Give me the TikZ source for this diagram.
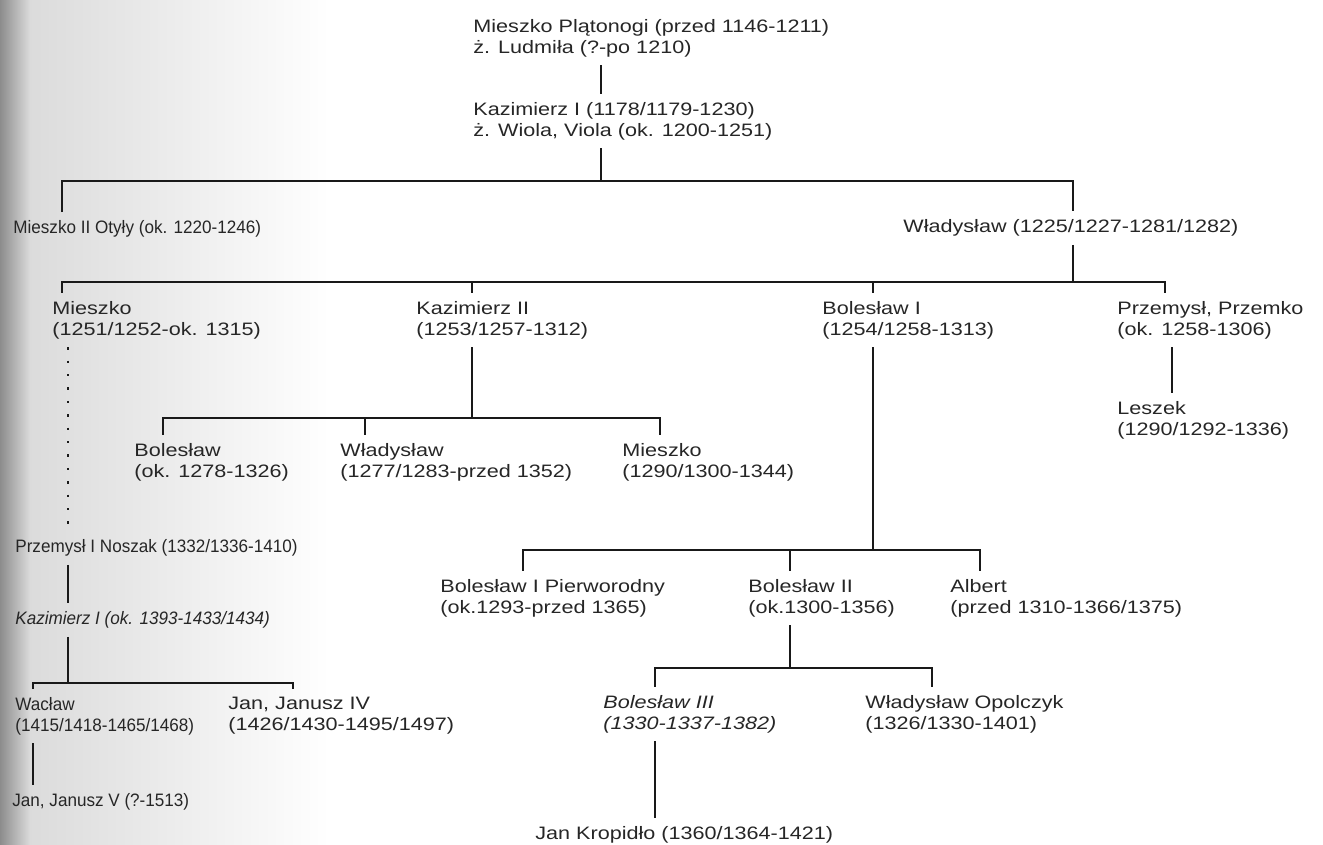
\documentclass[tikz,border=0pt]{standalone}
\usepackage{fontspec}
\setmainfont{Liberation Sans}[FakeStretch=1.2]
\newfontfamily\narrowfont{Liberation Sans}[FakeStretch=0.95]
\usetikzlibrary{calc}

\begin{document}
\begin{tikzpicture}[x=0.5pt, y=-0.5pt, font=\fontsize{9}{10.5}\selectfont, person/.style={anchor=west, align=left, inner xsep=0pt, inner ysep=4pt, text=black!85}, side/.style={person, font=\narrowfont\fontsize{9}{10.5}\selectfont}, link/.style={line width=1.3pt, black!90}]
\useasboundingbox (0,0) rectangle (1323,845);
\shade[left color=black!45, right color=black!14] (0,0) rectangle (30,845);
\shade[left color=black!14, right color=white] (30,0) rectangle (330,845);
% first generations
\node[person] (top) at (473,38) {Mieszko Plątonogi (przed 1146-1211)\\ż. Ludmiła (?-po 1210)};
\node[person] (kaz1) at (473,121) {Kazimierz I (1178/1179-1230)\\ż. Wiola, Viola (ok. 1200-1251)};
\node[side] (otyly) at (13,229) {Mieszko II Otyły (ok. 1220-1246)};
\node[person] (wlad) at (903,228) {Władysław (1225/1227-1281/1282)};
% sons of Władysław
\node[person] (mieszko) at (52,320) {Mieszko\\(1251/1252-ok. 1315)};
\node[person] (kazII) at (416,320) {Kazimierz II\\(1253/1257-1312)};
\node[person] (bolI) at (822,320) {Bolesław I\\(1254/1258-1313)};
\node[person] (przem) at (1117,320) {Przemysł, Przemko\\(ok. 1258-1306)};
\node[person] (leszek) at (1117,420) {Leszek\\(1290/1292-1336)};
% Kazimierz II line
\node[person] (bol) at (134,462) {Bolesław\\(ok. 1278-1326)};
\node[person] (wladB) at (340,462) {Władysław\\(1277/1283-przed 1352)};
\node[person] (mieszkoB) at (622,462) {Mieszko\\(1290/1300-1344)};
% Bolesław I line
\node[person] (pierw) at (440,598) {Bolesław I Pierworodny\\(ok.1293-przed 1365)};
\node[person] (bolII) at (748,598) {Bolesław II\\(ok.1300-1356)};
\node[person] (albert) at (950,598) {Albert\\(przed 1310-1366/1375)};
\node[person, font=\fontsize{9}{10.5}\selectfont\itshape] (bolIII) at (603,714) {Bolesław III\\(1330-1337-1382)};
\node[person] (opol) at (865,714) {Władysław Opolczyk\\(1326/1330-1401)};
\node[person] (jan) at (535,835) {Jan Kropidło (1360/1364-1421)};
% Mieszko line (left)
\node[side] (noszak) at (15,548) {Przemysł I Noszak (1332/1336-1410)};
\node[side, font=\narrowfont\fontsize{9}{10.5}\selectfont\itshape] (kazIb) at (15,620) {Kazimierz I (ok. 1393-1433/1434)};
\node[side] (waclaw) at (15,716) {Wacław\\(1415/1418-1465/1468)};
\node[person] (janIV) at (228,716) {Jan, Janusz IV\\(1426/1430-1495/1497)};
\node[side] (janV) at (12,802) {Jan, Janusz V (?-1513)};
% bars
\coordinate (b0) at (601,181);
\coordinate (b1) at (1073,282);
\coordinate (b2) at (472,418);
\coordinate (b3) at (873,550);
\coordinate (b4) at (790,668);
\coordinate (b5) at (68,683);
\draw[link] (top.south -| 601,0) -- (kaz1.north -| 601,0);
\draw[link] (kaz1.south -| b0) -- (b0);
\draw[link] (otyly.north -| 62,0) |- (b0) -| (wlad.north -| 1073,0);
\draw[link] (wlad.south -| b1) -- (b1);
\draw[link] (mieszko.north -| 62,0) |- (b1) -| (przem.north -| 1165,0);
\draw[link] (472,0 |- b1) -- (kazII.north -| 472,0);
\draw[link] (873,0 |- b1) -- (bolI.north -| 873,0);
\draw[link] (przem.south -| 1172,0) -- (leszek.north -| 1172,0);
\draw[link] (kazII.south -| b2) -- (b2);
\draw[link] (bol.north -| 163,0) |- (b2) -| (mieszkoB.north -| 660,0);
\draw[link] (365,0 |- b2) -- (wladB.north -| 365,0);
\draw[link] (bolI.south -| b3) -- (b3);
\draw[link] (pierw.north -| 523,0) |- (b3) -| (albert.north -| 980,0);
\draw[link] (790,0 |- b3) -- (bolII.north -| 790,0);
\draw[link] (bolII.south -| b4) -- (b4);
\draw[link] (bolIII.north -| 655,0) |- (b4) -| (opol.north -| 932,0);
\draw[link] (bolIII.south -| 655,0) -- (jan.north -| 655,0);
\draw[link, dash pattern=on 1.2pt off 5.5pt] (mieszko.south -| 68,0) -- (noszak.north -| 68,0);
\draw[link] (noszak.south -| 68,0) -- (kazIb.north -| 68,0);
\draw[link] (kazIb.south -| b5) -- (b5);
\draw[link] (waclaw.north -| 33,0) |- (b5) -| (janIV.north -| 293,0);
\draw[link] (waclaw.south -| 33,0) -- (janV.north -| 33,0);
\end{tikzpicture}
\end{document}
